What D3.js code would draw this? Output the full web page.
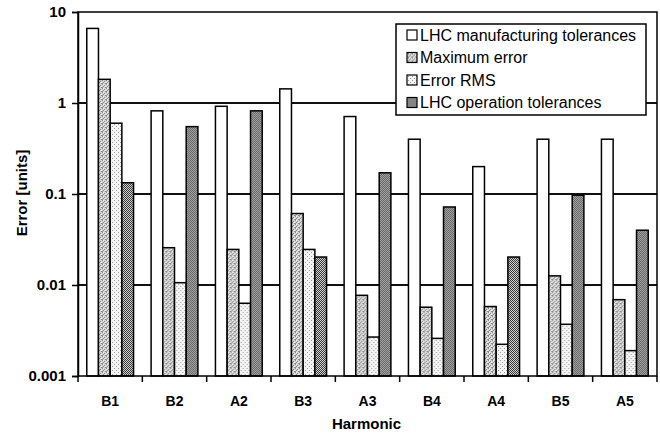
<!DOCTYPE html>
<html>
<head>
<meta charset="utf-8">
<script src="https://cdn.jsdelivr.net/npm/d3@7"></script>
<style>
  html, body { margin: 0; padding: 0; background: #fff; }
  svg { display: block; }
  text { font-family: "Liberation Sans", Arial, sans-serif; fill: #000; }
</style>
</head>
<body>
<svg id="chart" width="660" height="433"></svg>
<script>
// ---- data ----
const categories = ["B1", "B2", "A2", "B3", "A3", "B4", "A4", "B5", "A5"];
const seriesNames = ["LHC manufacturing tolerances", "Maximum error", "Error RMS", "LHC operation tolerances"];
const manufacturing = [6.6, 0.82, 0.92, 1.43, 0.71, 0.40, 0.20, 0.40, 0.40];
const maxError      = [1.82, 0.0257, 0.0246, 0.061, 0.0077, 0.0057, 0.0058, 0.0126, 0.0069];
const errorRMS      = [0.60, 0.0106, 0.0063, 0.0246, 0.00268, 0.00259, 0.00223, 0.0037, 0.0019];
const operation     = [0.133, 0.55, 0.82, 0.0203, 0.171, 0.072, 0.0203, 0.097, 0.040];
const yTicks = [0.001, 0.01, 0.1, 1, 10];
const yTickLabels = ["0.001", "0.01", "0.1", "1", "10"];
const xTitle = "Harmonic";
const yTitle = "Error [units]";

const seriesValues = [manufacturing, maxError, errorRMS, operation];

// ---- layout ----
const svg = d3.select("#chart");
const L = 78, R = 657, T = 12, B = 376;

const defs = svg.append("defs");
// fills
const p2 = defs.append("pattern").attr("id", "fill2").attr("width", 4).attr("height", 4).attr("patternUnits", "userSpaceOnUse");
p2.append("rect").attr("width", 4).attr("height", 4).attr("fill", "#d6d6d6");
[[0,0],[2,1],[1,2],[3,3],[0,3]].forEach(([x,y]) => p2.append("rect").attr("x", x).attr("y", y).attr("width", 1).attr("height", 1).attr("fill", "#8a8a8a"));
[[1,0],[3,2]].forEach(([x,y]) => p2.append("rect").attr("x", x).attr("y", y).attr("width", 1).attr("height", 1).attr("fill", "#f2f2f2"));

const p3 = defs.append("pattern").attr("id", "fill3").attr("width", 4).attr("height", 4).attr("patternUnits", "userSpaceOnUse");
p3.append("rect").attr("width", 4).attr("height", 4).attr("fill", "#f4f4f4");
[[0,0],[2,2]].forEach(([x,y]) => p3.append("rect").attr("x", x).attr("y", y).attr("width", 1).attr("height", 1).attr("fill", "#9a9a9a"));

const p4 = defs.append("pattern").attr("id", "fill4").attr("width", 2).attr("height", 2).attr("patternUnits", "userSpaceOnUse");
p4.append("rect").attr("width", 2).attr("height", 2).attr("fill", "#d0d0d0");
p4.append("rect").attr("x", 0).attr("y", 0).attr("width", 1).attr("height", 1).attr("fill", "#3a3a3a");
p4.append("rect").attr("x", 1).attr("y", 1).attr("width", 1).attr("height", 1).attr("fill", "#3a3a3a");

const fills = ["#ffffff", "url(#fill2)", "url(#fill3)", "url(#fill4)"];

const x0 = d3.scaleBand().domain(categories).range([L, R]).paddingInner(0).paddingOuter(0);
const bw = x0.bandwidth();
const barW = bw / 5.5;
const x1 = d3.scaleBand().domain(d3.range(seriesNames.length)).range([barW * 0.75, bw - barW * 0.75]).padding(0);
const y = d3.scaleLog().domain([0.001, 10]).range([B, T]);

// gridlines
svg.append("g").selectAll("line").data(yTicks.filter(t => t > 0.001 && t < 10)).join("line")
  .attr("x1", L).attr("x2", R).attr("y1", d => y(d)).attr("y2", d => y(d))
  .attr("stroke", "#111").attr("stroke-width", 2);

// bars
const groups = svg.append("g").selectAll("g").data(categories).join("g")
  .attr("transform", d => `translate(${x0(d)},0)`);
groups.selectAll("rect").data((d, i) => seriesValues.map((s, k) => ({ k, v: s[i] }))).join("rect")
  .attr("x", d => x1(d.k))
  .attr("width", x1.bandwidth())
  .attr("y", d => y(d.v))
  .attr("height", d => y(0.001) - y(d.v))
  .attr("fill", d => fills[d.k])
  .attr("stroke", "#000").attr("stroke-width", 1.5);

// plot border
svg.append("rect").attr("x", L).attr("y", T).attr("width", R - L).attr("height", B - T)
  .attr("fill", "none").attr("stroke", "#000").attr("stroke-width", 1.5);

// y axis
const yAxis = d3.axisLeft(y).tickValues(yTicks).tickFormat((d, i) => yTickLabels[i]).tickSize(6).tickPadding(6);
const gy = svg.append("g").attr("transform", `translate(${L},0)`).call(yAxis);
gy.select(".domain").attr("stroke", "#000").attr("stroke-width", 1.5);
gy.selectAll(".tick line").attr("stroke", "#000").attr("stroke-width", 1.5);
gy.selectAll(".tick text").attr("font-size", 15).attr("font-weight", "bold")
  .attr("font-family", "'Liberation Sans', Arial, sans-serif").attr("fill", "#000");

// x axis: category labels + boundary ticks
const xAxis = d3.axisBottom(x0).tickSize(0).tickPadding(20);
const gx = svg.append("g").attr("transform", `translate(0,${B})`).call(xAxis);
gx.select(".domain").remove();
gx.selectAll(".tick text").attr("font-size", 14).attr("font-weight", "bold")
  .attr("font-family", "'Liberation Sans', Arial, sans-serif").attr("fill", "#000");
svg.append("g").selectAll("line").data(categories.concat(["_end"])).join("line")
  .attr("x1", (d, i) => i < categories.length ? x0(d) : R)
  .attr("x2", (d, i) => i < categories.length ? x0(d) : R)
  .attr("y1", B).attr("y2", B + 6)
  .attr("stroke", "#000").attr("stroke-width", 1.5);

// titles
svg.append("text").attr("x", (L + R) / 2 - 1).attr("y", 429).attr("text-anchor", "middle")
  .attr("font-size", 15).attr("font-weight", "bold").text(xTitle);
svg.append("text").attr("transform", `translate(27,193) rotate(-90)`).attr("text-anchor", "middle")
  .attr("font-size", 15).attr("font-weight", "bold").text(yTitle);

// legend
const lg = svg.append("g");
lg.append("rect").attr("x", 396).attr("y", 24).attr("width", 250).attr("height", 91)
  .attr("fill", "#fff").attr("stroke", "#000").attr("stroke-width", 1.5);
const rows = lg.selectAll("g").data(seriesNames).join("g")
  .attr("transform", (d, i) => `translate(0,${35 + i * 22.5})`);
rows.append("rect").attr("x", 407).attr("y", -5).attr("width", 10).attr("height", 10)
  .attr("fill", (d, i) => fills[i]).attr("stroke", "#000").attr("stroke-width", 1.2);
rows.append("text").attr("x", 420).attr("y", 0).attr("dy", "0.36em")
  .attr("font-size", 16).text(d => d);
</script>
</body>
</html>
